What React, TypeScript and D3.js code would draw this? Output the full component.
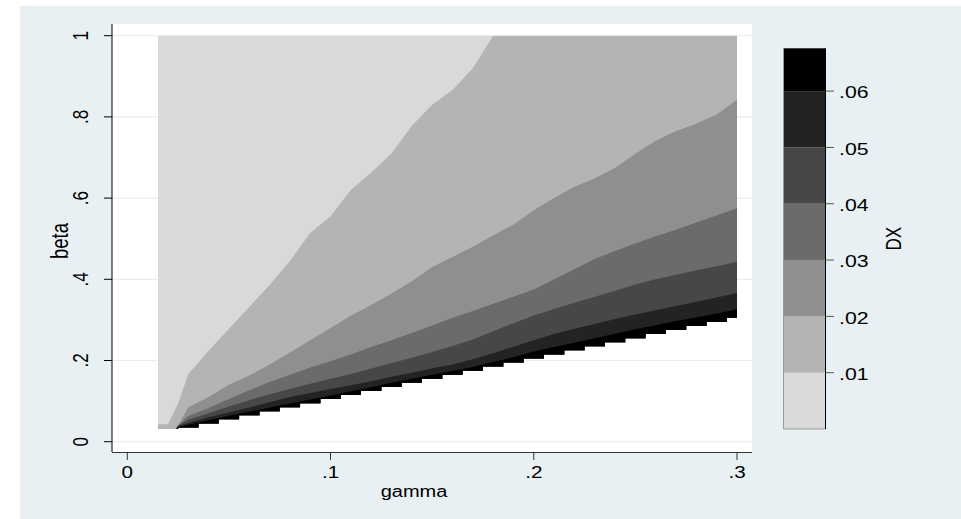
import React from "react";
import * as d3 from "d3";

const gammaGrid = [
  0.015, 0.02, 0.025, 0.03, 0.04, 0.05, 0.06, 0.07, 0.08, 0.09, 0.1, 0.11, 0.12, 0.13, 0.14, 0.15,
  0.16, 0.17, 0.18, 0.19, 0.2, 0.21, 0.22, 0.23, 0.24, 0.25, 0.26, 0.27, 0.28, 0.29, 0.3,
];

// beta position of each contour level (DX = .01 ... .06) along gammaGrid
const contour01 = [
  0.043, 0.043, 0.095, 0.166, 0.224, 0.278, 0.332, 0.386, 0.445, 0.514, 0.555, 0.62, 0.663, 0.71, 0.778, 0.83,
  0.866, 0.92, 1, 1, 1, 1, 1, 1, 1, 1, 1, 1, 1, 1, 1,
];
const contour02 = [
  0, 0, 0.04, 0.085, 0.11, 0.14, 0.163, 0.19, 0.22, 0.25, 0.28, 0.31, 0.337, 0.365, 0.395, 0.43,
  0.455, 0.48, 0.508, 0.535, 0.57, 0.6, 0.628, 0.649, 0.675, 0.709, 0.741, 0.765, 0.783, 0.806, 0.842,
];
const contour03 = [
  0, 0, 0.04, 0.063, 0.083, 0.105, 0.127, 0.147, 0.165, 0.183, 0.198, 0.215, 0.233, 0.25, 0.268, 0.286,
  0.305, 0.322, 0.34, 0.357, 0.375, 0.4, 0.425, 0.45, 0.47, 0.488, 0.506, 0.522, 0.54, 0.557, 0.575,
];
const contour04 = [
  0, 0, 0.04, 0.054, 0.07, 0.087, 0.102, 0.117, 0.13, 0.143, 0.155, 0.167, 0.18, 0.194, 0.207, 0.221,
  0.236, 0.252, 0.272, 0.292, 0.311, 0.327, 0.342, 0.357, 0.372, 0.387, 0.4, 0.411, 0.422, 0.432, 0.443,
];
const contour05 = [
  0, 0, 0.038, 0.046, 0.06, 0.072, 0.084, 0.097, 0.11, 0.12, 0.13, 0.139, 0.149, 0.16, 0.17, 0.181,
  0.19, 0.203, 0.218, 0.234, 0.25, 0.265, 0.278, 0.29, 0.302, 0.313, 0.324, 0.334, 0.345, 0.355, 0.366,
];
const contour06 = [
  0, 0, 0.036, 0.042, 0.053, 0.064, 0.074, 0.084, 0.094, 0.104, 0.114, 0.124, 0.134, 0.145, 0.155, 0.165,
  0.174, 0.184, 0.196, 0.208, 0.222, 0.233, 0.244, 0.255, 0.266, 0.277, 0.287, 0.297, 0.306, 0.316, 0.326,
];

// lower edge of the defined region: one step per gamma column
const floorLeft = [
  0.015, 0.025, 0.035, 0.045, 0.055, 0.065, 0.075, 0.085, 0.095, 0.105, 0.115, 0.125, 0.135, 0.145, 0.155,
  0.165, 0.175, 0.185, 0.195, 0.205, 0.215, 0.225, 0.235, 0.245, 0.255, 0.265, 0.275, 0.285, 0.295,
];
const floorBeta = [
  0.031, 0.035, 0.045, 0.055, 0.065, 0.075, 0.085, 0.095, 0.105, 0.115, 0.125, 0.135, 0.145, 0.155, 0.165,
  0.175, 0.185, 0.195, 0.205, 0.215, 0.225, 0.235, 0.245, 0.255, 0.265, 0.275, 0.285, 0.295, 0.305,
];
const gammaEnd = 0.3;
const betaTop = 1;

const levels = [0.01, 0.02, 0.03, 0.04, 0.05, 0.06];
const dxMax = 0.0676;
const grays = ["#d9d9d9", "#b4b4b4", "#8f8f8f", "#6b6b6b", "#474747", "#232323", "#000000"];

const xTicks = [0, 0.1, 0.2, 0.3];
const yTicks = [0, 0.2, 0.4, 0.6, 0.8, 1];

const W = 961;
const H = 519;
const FONT = "'Liberation Sans', Arial, Helvetica, sans-serif";
const SX = 1.25; // the original export is stretched sideways
const plot = { left: 112, right: 752, top: 24, bottom: 452 };

const x = d3.scaleLinear().domain([0, 0.3]).range([127.3, 737]);
const y = d3.scaleLinear().domain([0, 1]).range([441.7, 35.7]);
const z = d3.scaleLinear().domain([0, dxMax]).range([429, 48.3]);

const tickFmt = (v: number) => (v === 0 ? "0" : v === 1 ? "1" : d3.format(".1f")(v).replace(/^0/, ""));
const zFmt = (v: number) => d3.format(".2f")(v).replace(/^0/, "");

function Label(props: {
  x: number;
  y: number;
  rotate?: boolean;
  anchor?: string;
  size: number;
  dy?: string;
  children: React.ReactNode;
}) {
  const { x: tx, y: ty, rotate, anchor = "middle", size, dy, children } = props;
  return (
    <g transform={`translate(${tx},${ty}) scale(${SX},1)${rotate ? " rotate(-90)" : ""}`}>
      <text textAnchor={anchor} fontSize={size} dy={dy} fill="#000">
        {children}
      </text>
    </g>
  );
}

export default function App() {
  const contours = [contour01, contour02, contour03, contour04, contour05, contour06];

  // region where the surface is defined (staircase floor up to beta = 1)
  const regionPts: [number, number][] = [[gammaGrid[0], betaTop]];
  floorLeft.forEach((g, i) => {
    const right = i + 1 < floorLeft.length ? floorLeft[i + 1] : gammaEnd;
    regionPts.push([g, floorBeta[i]], [right, floorBeta[i]]);
  });
  regionPts.push([gammaEnd, betaTop]);
  const regionPath =
    d3
      .line<[number, number]>()
      .x((d) => x(d[0]))
      .y((d) => y(d[1]))(regionPts) + "Z";

  const area = d3
    .area<number>()
    .x((_, i) => x(gammaGrid[i]))
    .y0(y(0))
    .y1((d) => y(d));

  const bands = [0, ...levels, dxMax];

  return (
    <div style={{ position: "absolute", left: 0, top: 0 }}>
      <svg width={W} height={H} style={{ display: "block" }} fontFamily={FONT}>
        <rect width={W} height={H} fill="#ffffff" />
        <rect x={20} y={6} width={W - 20} height={H - 6} fill="#e9f0f3" />
        <rect
          x={plot.left}
          y={plot.top}
          width={plot.right - plot.left}
          height={plot.bottom - plot.top}
          fill="#ffffff"
        />
        {yTicks.map((t) => (
          <line
            key={"g" + t}
            x1={plot.left}
            x2={plot.right}
            y1={y(t)}
            y2={y(t)}
            stroke="#e6eef1"
            strokeWidth={1.2}
          />
        ))}

        <defs>
          <clipPath id="region">
            <path d={regionPath} />
          </clipPath>
        </defs>
        <g clipPath="url(#region)">
          <path d={regionPath} fill={grays[0]} />
          {contours.map((c, i) => (
            <path key={"c" + i} d={area(c) || ""} fill={grays[i + 1]} />
          ))}
        </g>

        {/* y axis */}
        <line x1={plot.left} x2={plot.left} y1={plot.top} y2={plot.bottom} stroke="#000" />
        {yTicks.map((t) => (
          <g key={"y" + t}>
            <line x1={plot.left - 8} x2={plot.left} y1={y(t)} y2={y(t)} stroke="#000" />
            <Label x={87.5} y={y(t)} rotate size={17}>
              {tickFmt(t)}
            </Label>
          </g>
        ))}
        <Label x={68} y={241} rotate size={18.5}>
          beta
        </Label>

        {/* x axis */}
        <line x1={plot.left} x2={plot.right} y1={plot.bottom + 0.5} y2={plot.bottom + 0.5} stroke="#333" />
        {xTicks.map((t) => (
          <g key={"x" + t}>
            <line x1={x(t)} x2={x(t)} y1={plot.bottom} y2={plot.bottom + 8} stroke="#333" />
            <Label x={x(t)} y={478} size={16.5}>
              {tickFmt(t)}
            </Label>
          </g>
        ))}
        <Label x={(plot.left + plot.right) / 2 - 18} y={497} size={16}>
          gamma
        </Label>

        {/* colour bar */}
        {bands.slice(0, -1).map((b, i) => (
          <rect
            key={"b" + i}
            x={783.5}
            width={42}
            y={z(bands[i + 1])}
            height={z(b) - z(bands[i + 1])}
            fill={grays[i]}
          />
        ))}
        <line x1={783.5} x2={783.5} y1={z(dxMax)} y2={z(0)} stroke="#999" />
        <line x1={783.5} x2={825.5} y1={z(0)} y2={z(0)} stroke="#999" />
        <line x1={825.5} x2={825.5} y1={z(dxMax)} y2={z(0)} stroke="#000" />
        {levels.map((l) => (
          <g key={"z" + l}>
            <line x1={825.5} x2={834} y1={z(l)} y2={z(l)} stroke="#555" />
            <Label x={839} y={z(l)} anchor="start" dy="0.42em" size={17}>
              {zFmt(l)}
            </Label>
          </g>
        ))}
        <Label x={901} y={(z(0) + z(dxMax)) / 2} rotate size={17}>
          DX
        </Label>
      </svg>
    </div>
  );
}
